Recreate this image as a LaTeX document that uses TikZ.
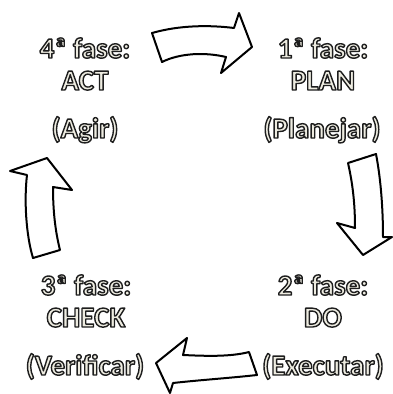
\documentclass[tikz,border=0pt]{standalone}
\usepackage{fontspec}
\setmainfont{Carlito}
\usepackage{tikz}

\definecolor{cream}{HTML}{EEECE1}
% outlined text: fill cream, stroke dark (text render mode 2)
\newcommand{\phasetext}[1]{\textcolor{cream}{\special{pdf:literal direct 2 Tr 1.4 w 1 j 0.118 0.118 0.118 RG}#1\special{pdf:literal direct 0 Tr}}}

\tikzset{
  phase/.style={anchor=base, inner sep=0pt, font=\fontsize{29}{32}\selectfont\bfseries},
  blockarrow/.style={draw=black, fill=white, line width=2pt, line join=round}
}

\begin{document}
\begin{tikzpicture}[x=1pt, y=-1pt]
    \useasboundingbox (0,0) rectangle (393,394);

    % arrows
    \draw[blockarrow] (152,33) .. controls (180,25) and (210,25) .. (234,28) -- (239,13) -- (252,47) -- (221,73) -- (226,57) .. controls (205,52) and (180,53) .. (162,62) -- cycle;
    \draw[blockarrow] (348,163) -- (376,154) .. controls (381,180) and (383,210) .. (383,237) -- (392,237) -- (363,255) -- (337,223) -- (355,228) .. controls (355,205) and (353,185) .. (348,163) -- cycle;
    \draw[blockarrow] (249,352) -- (257,375) .. controls (230,378) and (200,380) .. (173,383) -- (170,393) -- (156,363) -- (187,338) -- (183,355) .. controls (205,356) and (230,357) .. (249,352) -- cycle;
    \draw[blockarrow] (33,258) -- (60,250) .. controls (55,230) and (53,210) .. (53,187) -- (72,190) -- (47,158) -- (10,171) -- (27,175) .. controls (24,200) and (26,235) .. (33,258) -- cycle;

    % phases
    \node[phase] at (85,58) (fase4) {\phasetext{4ª fase:}};
    \node[phase] at (85,90) (act) {\phasetext{ACT}};
    \node[phase] at (85,138) (agir) {\phasetext{(Agir)}};

    \node[phase] at (323,58) (fase1) {\phasetext{1ª fase:}};
    \node[phase] at (323,90) (plan) {\phasetext{PLAN}};
    \node[phase] at (322,138) (planejar) {\phasetext{(Planejar)}};

    \node[phase] at (323,295) (fase2) {\phasetext{2ª fase:}};
    \node[phase] at (323,327) (do) {\phasetext{DO}};
    \node[phase] at (323,375) (executar) {\phasetext{(Executar)}};

    \node[phase] at (86,295) (fase3) {\phasetext{3ª fase:}};
    \node[phase] at (86,327) (check) {\phasetext{CHECK}};
    \node[phase] at (85,375) (verificar) {\phasetext{(Verificar)}};
\end{tikzpicture}
\end{document}
